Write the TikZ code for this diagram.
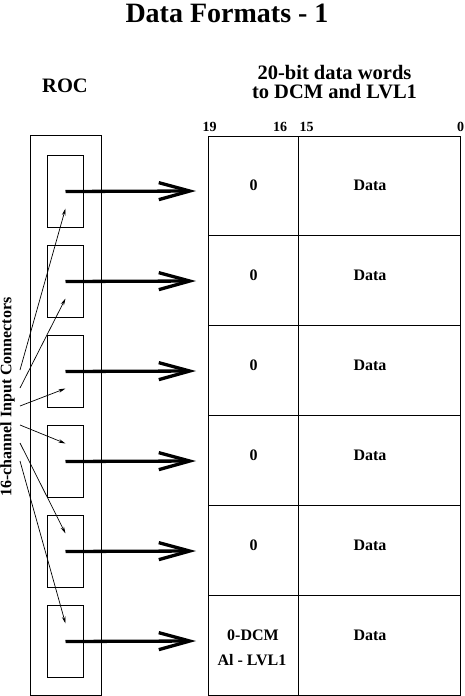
\documentclass[tikz,border=0pt]{standalone}
\usepackage{fontspec}
\setmainfont{Liberation Serif}
\usetikzlibrary{arrows.meta}
\begin{document}
\begin{tikzpicture}[x=1pt,y=-1pt,
  lbl/.style={font=\bfseries\fontsize{16}{18}\selectfont, inner sep=0pt},
  bitlbl/.style={font=\bfseries\fontsize{14}{16}\selectfont, inner sep=0pt},
  head/.style={font=\bfseries\fontsize{20.5}{23}\selectfont, inner sep=0pt, align=center},
  box/.style={draw, line width=1pt, inner sep=0pt, anchor=north west},
  bigarrow/.style={line width=3.3pt, -{Straight Barb[length=31pt,width=17pt]}},
  thinarrow/.style={line width=0.7pt, -{Stealth[length=7pt,width=3.5pt]}}]
\useasboundingbox (0,0) rectangle (465,696);
\fill[white] (0,0) rectangle (465,696);
% titles
\node[font=\bfseries\fontsize{28}{30}\selectfont, inner sep=0pt] (title) at (227,13) {Data Formats - 1};
\node[head] (roclbl) at (65,86) {ROC};
\node[head] (wordlbl1) at (334.5,72.5) {20-bit data words};
\node[head] (wordlbl2) at (334.5,92) {to DCM and LVL1};
% bit numbers
\node[bitlbl] (b19) at (209.5,127) {19};
\node[bitlbl] (b16) at (280,127) {16};
\node[bitlbl] (b15) at (306.5,127) {15};
\node[bitlbl] (b0) at (460.5,127) {0};
% ROC outer box
\node[box, minimum width=71pt, minimum height=560pt] (roc) at (30,135) {};
% table cells
\foreach \i/\t/\h in {1/136/99,2/235/90,3/325/90,4/415/90,5/505/90,6/595/100}{
  \node[box, minimum width=90pt, minimum height=\h pt] (c\i) at (208,\t) {};
  \node[box, minimum width=162pt, minimum height=\h pt] (d\i) at (298,\t) {};
}
\foreach \i in {1,...,5}{
  \node[lbl] (z\i) at (253.5,{185.5+90*(\i-1)}) {0};
}
\foreach \i in {1,...,6}{
  \node[lbl] (data\i) at (370,{185.5+90*(\i-1)}) {Data};
}
\node[lbl] (dcm) at (253,635) {0-DCM};
\node[lbl] (lvl) at (252,660) {Al - LVL1};
% inner connector boxes and thick arrows
\foreach \i in {1,...,6}{
  \node[box, minimum width=36pt, minimum height=72pt] (bx\i) at (47,{155+90*(\i-1)}) {};
  \coordinate (tip\i) at (196,{191+90*(\i-1)});
  \draw[bigarrow] (bx\i.center) -- (tip\i);
}
% input connectors label
\node[font=\bfseries\fontsize{16}{18}\selectfont, inner sep=0pt, rotate=90] (conn) at (7.5,397) {16-channel Input Connectors};
% thin arrows
\coordinate (s1) at (20,370);
\coordinate (s2) at (20,388);
\coordinate (s3) at (20,406);
\coordinate (s4) at (20,425);
\coordinate (s5) at (20,443);
\coordinate (s6) at (20,461);
\draw[thinarrow] (s1) -- ([yshift=-17pt]bx1.center);
\draw[thinarrow] (s2) -- ([yshift=-17pt]bx2.center);
\draw[thinarrow] (s3) -- ([yshift=-17pt]bx3.center);
\draw[thinarrow] (s4) -- ([yshift=18pt]bx4.center);
\draw[thinarrow] (s5) -- ([yshift=18pt]bx5.center);
\draw[thinarrow] (s6) -- ([yshift=18pt]bx6.center);
\end{tikzpicture}
\end{document}
